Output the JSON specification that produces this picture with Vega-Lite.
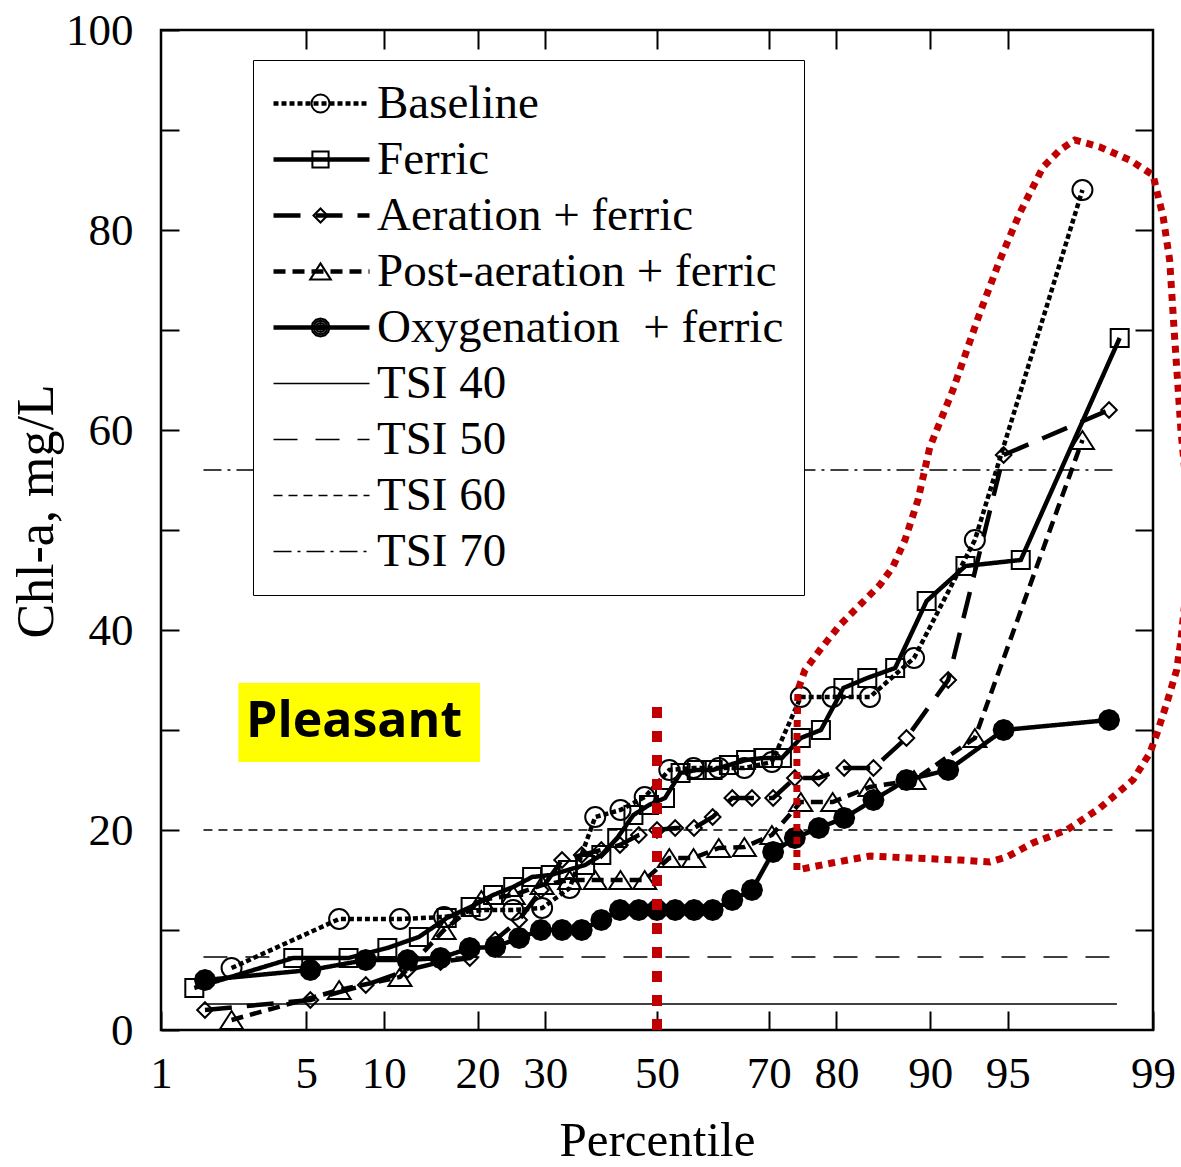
{
  "$schema": "https://vega.github.io/schema/vega-lite/v6.json",
  "width": 992,
  "height": 1000,
  "autosize": {"type": "none"},
  "padding": {"left": 161, "top": 30, "right": 28, "bottom": 137},
  "background": "white",
  "config": {
    "view": {"stroke": "black", "strokeWidth": 2.5},
    "font": "Liberation Serif",
    "axis": {
      "grid": false, "domain": false, "tickColor": "black", "tickWidth": 2,
      "labelFont": "Liberation Serif", "labelFontSize": 45, "labelColor": "black",
      "titleFont": "Liberation Serif", "titleFontSize": 49, "titleFontWeight": "normal", "titleColor": "black",
      "labelFlush": false, "labelOverlap": false, "labelBound": false
    }
  },
  "datasets": {
    "obs": [
      {"series": "TSI 40", "p": 1.67, "chl": 2.6}, {"series": "TSI 40", "p": 98.45, "chl": 2.6},
      {"series": "TSI 50", "p": 1.67, "chl": 7.3}, {"series": "TSI 50", "p": 98.45, "chl": 7.3},
      {"series": "TSI 60", "p": 1.67, "chl": 20}, {"series": "TSI 60", "p": 98.45, "chl": 20},
      {"series": "TSI 70", "p": 1.67, "chl": 56}, {"series": "TSI 70", "p": 98.45, "chl": 56},
      {"series": "Baseline", "p": 2.3, "chl": 6.2}, {"series": "Baseline", "p": 6.8, "chl": 11.1}, {"series": "Baseline", "p": 11.4, "chl": 11.1}, {"series": "Baseline", "p": 15.9, "chl": 11.3}, {"series": "Baseline", "p": 20.5, "chl": 12.0}, {"series": "Baseline", "p": 25.0, "chl": 12.0}, {"series": "Baseline", "p": 29.5, "chl": 12.2}, {"series": "Baseline", "p": 34.1, "chl": 14.2}, {"series": "Baseline", "p": 38.6, "chl": 21.3}, {"series": "Baseline", "p": 43.2, "chl": 22.0}, {"series": "Baseline", "p": 47.7, "chl": 23.3}, {"series": "Baseline", "p": 52.3, "chl": 26.0}, {"series": "Baseline", "p": 56.8, "chl": 26.2}, {"series": "Baseline", "p": 61.4, "chl": 26.2}, {"series": "Baseline", "p": 65.9, "chl": 26.2}, {"series": "Baseline", "p": 70.5, "chl": 26.8}, {"series": "Baseline", "p": 75.0, "chl": 33.3}, {"series": "Baseline", "p": 79.5, "chl": 33.3}, {"series": "Baseline", "p": 84.1, "chl": 33.3}, {"series": "Baseline", "p": 88.6, "chl": 37.2}, {"series": "Baseline", "p": 93.2, "chl": 49.0}, {"series": "Baseline", "p": 97.7, "chl": 84.0},
      {"series": "Ferric", "p": 1.5, "chl": 4.2}, {"series": "Ferric", "p": 4.4, "chl": 7.2}, {"series": "Ferric", "p": 7.4, "chl": 7.2}, {"series": "Ferric", "p": 10.3, "chl": 8.2}, {"series": "Ferric", "p": 13.2, "chl": 9.3}, {"series": "Ferric", "p": 16.2, "chl": 11.2}, {"series": "Ferric", "p": 19.1, "chl": 12.3}, {"series": "Ferric", "p": 22.1, "chl": 13.5}, {"series": "Ferric", "p": 25.0, "chl": 14.3}, {"series": "Ferric", "p": 27.9, "chl": 15.3}, {"series": "Ferric", "p": 30.9, "chl": 15.5}, {"series": "Ferric", "p": 33.8, "chl": 16.0}, {"series": "Ferric", "p": 36.8, "chl": 16.5}, {"series": "Ferric", "p": 39.7, "chl": 17.5}, {"series": "Ferric", "p": 42.6, "chl": 19.2}, {"series": "Ferric", "p": 45.6, "chl": 21.5}, {"series": "Ferric", "p": 48.5, "chl": 22.5}, {"series": "Ferric", "p": 51.5, "chl": 23.2}, {"series": "Ferric", "p": 54.4, "chl": 25.7}, {"series": "Ferric", "p": 57.4, "chl": 26.0}, {"series": "Ferric", "p": 60.3, "chl": 26.0}, {"series": "Ferric", "p": 63.2, "chl": 26.5}, {"series": "Ferric", "p": 66.2, "chl": 27.0}, {"series": "Ferric", "p": 69.1, "chl": 27.2}, {"series": "Ferric", "p": 72.1, "chl": 27.2}, {"series": "Ferric", "p": 75.0, "chl": 29.2}, {"series": "Ferric", "p": 77.9, "chl": 30.0}, {"series": "Ferric", "p": 80.9, "chl": 34.2}, {"series": "Ferric", "p": 83.8, "chl": 35.2}, {"series": "Ferric", "p": 86.8, "chl": 36.2}, {"series": "Ferric", "p": 89.7, "chl": 42.9}, {"series": "Ferric", "p": 92.6, "chl": 46.4}, {"series": "Ferric", "p": 95.6, "chl": 47.0}, {"series": "Ferric", "p": 98.5, "chl": 69.2},
      {"series": "Aeration + ferric", "p": 1.7, "chl": 2.0}, {"series": "Aeration + ferric", "p": 5.2, "chl": 3.0}, {"series": "Aeration + ferric", "p": 8.6, "chl": 4.5}, {"series": "Aeration + ferric", "p": 12.1, "chl": 6.0}, {"series": "Aeration + ferric", "p": 15.5, "chl": 6.8}, {"series": "Aeration + ferric", "p": 19.0, "chl": 7.2}, {"series": "Aeration + ferric", "p": 22.4, "chl": 9.0}, {"series": "Aeration + ferric", "p": 25.9, "chl": 11.0}, {"series": "Aeration + ferric", "p": 29.3, "chl": 14.0}, {"series": "Aeration + ferric", "p": 32.8, "chl": 17.0}, {"series": "Aeration + ferric", "p": 36.2, "chl": 17.5}, {"series": "Aeration + ferric", "p": 39.7, "chl": 18.0}, {"series": "Aeration + ferric", "p": 43.1, "chl": 18.5}, {"series": "Aeration + ferric", "p": 46.6, "chl": 19.5}, {"series": "Aeration + ferric", "p": 50.0, "chl": 20.0}, {"series": "Aeration + ferric", "p": 53.4, "chl": 20.2}, {"series": "Aeration + ferric", "p": 56.9, "chl": 20.2}, {"series": "Aeration + ferric", "p": 60.3, "chl": 21.3}, {"series": "Aeration + ferric", "p": 63.8, "chl": 23.2}, {"series": "Aeration + ferric", "p": 67.2, "chl": 23.2}, {"series": "Aeration + ferric", "p": 70.7, "chl": 23.2}, {"series": "Aeration + ferric", "p": 74.1, "chl": 25.2}, {"series": "Aeration + ferric", "p": 77.6, "chl": 25.2}, {"series": "Aeration + ferric", "p": 81.0, "chl": 26.2}, {"series": "Aeration + ferric", "p": 84.5, "chl": 26.2}, {"series": "Aeration + ferric", "p": 87.9, "chl": 29.2}, {"series": "Aeration + ferric", "p": 91.4, "chl": 35.0}, {"series": "Aeration + ferric", "p": 94.8, "chl": 57.5}, {"series": "Aeration + ferric", "p": 98.3, "chl": 62.0},
      {"series": "Post-aeration + ferric", "p": 2.3, "chl": 1.0}, {"series": "Post-aeration + ferric", "p": 6.8, "chl": 4.0}, {"series": "Post-aeration + ferric", "p": 11.4, "chl": 5.3}, {"series": "Post-aeration + ferric", "p": 15.9, "chl": 10.0}, {"series": "Post-aeration + ferric", "p": 20.5, "chl": 13.0}, {"series": "Post-aeration + ferric", "p": 25.0, "chl": 13.5}, {"series": "Post-aeration + ferric", "p": 29.5, "chl": 14.5}, {"series": "Post-aeration + ferric", "p": 34.1, "chl": 15.0}, {"series": "Post-aeration + ferric", "p": 38.6, "chl": 15.0}, {"series": "Post-aeration + ferric", "p": 43.2, "chl": 15.0}, {"series": "Post-aeration + ferric", "p": 47.7, "chl": 15.0}, {"series": "Post-aeration + ferric", "p": 52.3, "chl": 17.2}, {"series": "Post-aeration + ferric", "p": 56.8, "chl": 17.2}, {"series": "Post-aeration + ferric", "p": 61.4, "chl": 18.2}, {"series": "Post-aeration + ferric", "p": 65.9, "chl": 18.3}, {"series": "Post-aeration + ferric", "p": 70.5, "chl": 19.5}, {"series": "Post-aeration + ferric", "p": 75.0, "chl": 22.8}, {"series": "Post-aeration + ferric", "p": 79.5, "chl": 22.8}, {"series": "Post-aeration + ferric", "p": 84.1, "chl": 24.3}, {"series": "Post-aeration + ferric", "p": 88.6, "chl": 25.0}, {"series": "Post-aeration + ferric", "p": 93.2, "chl": 29.2}, {"series": "Post-aeration + ferric", "p": 97.7, "chl": 59.0},
      {"series": "Oxygenation  + ferric", "p": 1.7, "chl": 5.0}, {"series": "Oxygenation  + ferric", "p": 5.2, "chl": 6.0}, {"series": "Oxygenation  + ferric", "p": 8.6, "chl": 7.0}, {"series": "Oxygenation  + ferric", "p": 12.1, "chl": 7.0}, {"series": "Oxygenation  + ferric", "p": 15.5, "chl": 7.2}, {"series": "Oxygenation  + ferric", "p": 19.0, "chl": 8.2}, {"series": "Oxygenation  + ferric", "p": 22.4, "chl": 8.3}, {"series": "Oxygenation  + ferric", "p": 25.9, "chl": 9.2}, {"series": "Oxygenation  + ferric", "p": 29.3, "chl": 10.0}, {"series": "Oxygenation  + ferric", "p": 32.8, "chl": 10.0}, {"series": "Oxygenation  + ferric", "p": 36.2, "chl": 10.0}, {"series": "Oxygenation  + ferric", "p": 39.7, "chl": 11.0}, {"series": "Oxygenation  + ferric", "p": 43.1, "chl": 12.0}, {"series": "Oxygenation  + ferric", "p": 46.6, "chl": 12.0}, {"series": "Oxygenation  + ferric", "p": 50.0, "chl": 12.0}, {"series": "Oxygenation  + ferric", "p": 53.4, "chl": 12.0}, {"series": "Oxygenation  + ferric", "p": 56.9, "chl": 12.0}, {"series": "Oxygenation  + ferric", "p": 60.3, "chl": 12.0}, {"series": "Oxygenation  + ferric", "p": 63.8, "chl": 13.0}, {"series": "Oxygenation  + ferric", "p": 67.2, "chl": 14.0}, {"series": "Oxygenation  + ferric", "p": 70.7, "chl": 17.8}, {"series": "Oxygenation  + ferric", "p": 74.1, "chl": 19.2}, {"series": "Oxygenation  + ferric", "p": 77.6, "chl": 20.2}, {"series": "Oxygenation  + ferric", "p": 81.0, "chl": 21.2}, {"series": "Oxygenation  + ferric", "p": 84.5, "chl": 23.0}, {"series": "Oxygenation  + ferric", "p": 87.9, "chl": 25.0}, {"series": "Oxygenation  + ferric", "p": 91.4, "chl": 26.0}, {"series": "Oxygenation  + ferric", "p": 94.8, "chl": 30.0}, {"series": "Oxygenation  + ferric", "p": 98.3, "chl": 31.0}
    ],
    "curve": [
      {"i": 1, "p": 74.41, "chl": 16}, {"i": 2, "p": 74.41, "chl": 23}, {"i": 3, "p": 74.41, "chl": 29}, {"i": 4, "p": 74.57, "chl": 34}, {"i": 5, "p": 75.62, "chl": 36}, {"i": 6, "p": 77.76, "chl": 38}, {"i": 7, "p": 80.46, "chl": 40.5}, {"i": 8, "p": 83.17, "chl": 42.7}, {"i": 9, "p": 85.2, "chl": 44.5}, {"i": 10, "p": 86.56, "chl": 46.3}, {"i": 11, "p": 87.76, "chl": 49}, {"i": 12, "p": 88.95, "chl": 53}, {"i": 13, "p": 89.97, "chl": 58.3}, {"i": 14, "p": 91.74, "chl": 64}, {"i": 15, "p": 93.5, "chl": 71.7}, {"i": 16, "p": 94.61, "chl": 77}, {"i": 17, "p": 95.56, "chl": 81.7}, {"i": 18, "p": 96.49, "chl": 86.3}, {"i": 19, "p": 97.06, "chl": 88}, {"i": 20, "p": 97.5, "chl": 89}, {"i": 21, "p": 98.11, "chl": 88.3}, {"i": 22, "p": 98.67, "chl": 87}, {"i": 23, "p": 99.0, "chl": 85.5}, {"i": 24, "p": 99.12, "chl": 81.3}, {"i": 25, "p": 99.19, "chl": 77}, {"i": 26, "p": 99.24, "chl": 69.3}, {"i": 27, "p": 99.3, "chl": 60}, {"i": 28, "p": 99.39, "chl": 49}, {"i": 29, "p": 99.3, "chl": 39}, {"i": 30, "p": 99.26, "chl": 36}, {"i": 31, "p": 99.16, "chl": 32.7}, {"i": 32, "p": 99.05, "chl": 29.7}, {"i": 33, "p": 98.96, "chl": 27.7}, {"i": 34, "p": 98.72, "chl": 25}, {"i": 35, "p": 98.11, "chl": 22.2}, {"i": 36, "p": 97.27, "chl": 20}, {"i": 37, "p": 96.1, "chl": 18.7}, {"i": 38, "p": 94.96, "chl": 17.3}, {"i": 39, "p": 94.07, "chl": 16.8}, {"i": 40, "p": 92.23, "chl": 17}, {"i": 41, "p": 88.22, "chl": 17.2}, {"i": 42, "p": 84.11, "chl": 17.4}, {"i": 43, "p": 79.39, "chl": 16.7}, {"i": 44, "p": 74.41, "chl": 16}
    ],
    "mid": [{"p": 50, "lo": 0, "hi": 32.5}],
    "note": [{"label": "Pleasant", "p1": 2.48, "p2": 20.33, "lo": 26.8, "hi": 34.7, "pt": 7.77, "yt": 30.8}]
  },
  "layer": [
    {
      "data": {"name": "note"},
      "transform": [
        {"calculate": "quantileNormal(datum.p1/100)", "as": "z1"},
        {"calculate": "quantileNormal(datum.p2/100)", "as": "z2"}
      ],
      "mark": {"type": "rect", "color": "#ffff00"},
      "encoding": {
        "x": {"field": "z1", "type": "quantitative", "scale": {"domain": [-2.3263, 2.3263], "nice": false, "zero": false},
          "axis": {"orient": "bottom", "values": [-2.3263, -1.6449, -1.2816, -0.8416, -0.5244, 0, 0.5244, 0.8416, 1.2816, 1.6449, 2.3263],
            "labelExpr": "round(cumulativeNormal(datum.value)*100)", "tickSize": -19, "labelPadding": 40, "title": "Percentile", "titlePadding": 20}},
        "x2": {"field": "z2"},
        "y": {"field": "lo", "type": "quantitative", "scale": {"domain": [0, 100], "nice": false, "zero": false},
          "axis": {"orient": "left", "values": [0, 10, 20, 30, 40, 50, 60, 70, 80, 90, 100],
            "labelExpr": "datum.value % 20 === 0 ? datum.label : ''", "tickSize": -18, "labelPadding": 46, "title": "Chl-a, mg/L", "titlePadding": 2, "titleFontSize": 52, "titleY": 481}},
        "y2": {"field": "hi"}
      }
    },
    {
      "data": {"name": "note"},
      "transform": [{"calculate": "quantileNormal(datum.pt/100)", "as": "zt"}],
      "mark": {"type": "text", "font": "Open Sans", "fontWeight": "bold", "fontSize": 50, "color": "black", "align": "center", "baseline": "middle"},
      "encoding": {
        "x": {"field": "zt", "type": "quantitative", "axis": null},
        "y": {"field": "yt", "type": "quantitative", "axis": null},
        "text": {"field": "label"}
      }
    },
    {
      "data": {"name": "obs"},
      "transform": [{"calculate": "quantileNormal(datum.p/100)", "as": "z"}],
      "mark": {"type": "line", "color": "black", "strokeCap": "butt"},
      "encoding": {
        "x": {"field": "z", "type": "quantitative",
          "axis": {"orient": "top", "values": [-1.6449, -1.2816, -0.8416, -0.5244, 0, 0.5244, 0.8416, 1.2816, 1.6449], "labels": false, "tickSize": -19, "title": null}},
        "y": {"field": "chl", "type": "quantitative",
          "axis": {"orient": "right", "values": [10, 20, 30, 40, 50, 60, 70, 80, 90], "labels": false, "tickSize": -18, "title": null}},
        "order": {"field": "p"},
        "strokeWidth": {"condition": {"test": "indexof(datum.series, 'TSI') === 0", "value": 1.5}, "value": 4.5},
        "strokeDash": {"field": "series", "type": "nominal",
          "scale": {"domain": ["Baseline", "Ferric", "Aeration + ferric", "Post-aeration + ferric", "Oxygenation  + ferric", "TSI 40", "TSI 50", "TSI 60", "TSI 70"],
            "range": [[5, 3], [1, 0], [27, 15], [12, 7], [1, 0], [1, 0], [24, 18], [9, 6], [18, 6, 3, 6]]},
          "legend": {"title": null, "orient": "none", "legendX": 92, "legendY": 30, "direction": "vertical",
            "symbolType": "M-2.4,0H2.4", "symbolSize": 1600, "symbolOffset": 25, "symbolStrokeColor": "black", "symbolStrokeWidth": 1.5,
            "labelFont": "Liberation Serif", "labelFontSize": 47, "labelColor": "black", "labelLimit": 800, "labelOffset": 32,
            "labelExpr": "replace(datum.label, '  ', '\u00a0 ')",
            "rowPadding": 8, "padding": 20, "strokeColor": "black", "fillColor": "white", "zindex": 1,
            "encode": {"symbols": {"update": {"shape": {"signal": "indexof(datum.value, 'TSI') === 0 ? 'M-2.4,0H2.4' : 'M-2.4,-0.07H2.4M-2.4,0H2.4M-2.4,0.07H2.4'"}}}}}
        }
      }
    },
    {
      "data": {"name": "obs"},
      "transform": [
        {"filter": "indexof(datum.series, 'TSI') < 0"},
        {"calculate": "quantileNormal(datum.p/100)", "as": "z"}
      ],
      "mark": {"type": "point", "filled": false, "size": 400, "strokeWidth": 2, "color": "black", "opacity": 1},
      "encoding": {
        "x": {"field": "z", "type": "quantitative", "axis": null},
        "y": {"field": "chl", "type": "quantitative", "axis": null},
        "fill": {"condition": {"test": "datum.series === 'Oxygenation  + ferric'", "value": "black"}, "value": "transparent"},
        "shape": {"field": "series", "type": "nominal",
          "scale": {"domain": ["Baseline", "Ferric", "Aeration + ferric", "Post-aeration + ferric", "Oxygenation  + ferric"],
            "range": ["circle", "M-0.9,-0.9L0.9,-0.9L0.9,0.9L-0.9,0.9Z", "M0,-0.78L0.78,0L0,0.78L-0.78,0Z", "M0,-0.9L1.15,0.9L-1.15,0.9Z",
              "M1,0L0.866,0.5L0.5,0.866L0,1L-0.5,0.866L-0.866,0.5L-1,0L-0.866,-0.5L-0.5,-0.866L0,-1L0.5,-0.866L0.866,-0.5ZM0.75,0L0.65,0.375L0.375,0.65L0,0.75L-0.375,0.65L-0.65,0.375L-0.75,0L-0.65,-0.375L-0.375,-0.65L0,-0.75L0.375,-0.65L0.65,-0.375ZM0.5,0L0.433,0.25L0.25,0.433L0,0.5L-0.25,0.433L-0.433,0.25L-0.5,0L-0.433,-0.25L-0.25,-0.433L0,-0.5L0.25,-0.433L0.433,-0.25ZM0.25,0L0.2165,0.125L0.125,0.2165L0,0.25L-0.125,0.2165L-0.2165,0.125L-0.25,0L-0.2165,-0.125L-0.125,-0.2165L0,-0.25L0.125,-0.2165L0.2165,-0.125ZM-0.08,0L0.08,0"]},
          "legend": {"title": null, "orient": "none", "legendX": 116, "legendY": 30, "direction": "vertical",
            "symbolSize": 324, "symbolStrokeColor": "black", "symbolStrokeWidth": 2,
            "labelFont": "Liberation Serif", "labelFontSize": 47, "labelColor": "transparent", "labelOffset": 10, "labelExpr": "''",
            "rowPadding": 8, "padding": 20, "zindex": 2,
            "encode": {"symbols": {"update": {"fill": {"signal": "datum.value === 'Oxygenation  + ferric' ? 'black' : 'transparent'"}, "opacity": {"value": 1}}}}}
        }
      }
    },
    {
      "data": {"name": "curve"},
      "transform": [{"calculate": "quantileNormal(datum.p/100)", "as": "z"}],
      "mark": {"type": "line", "color": "#c00000", "strokeWidth": 7, "strokeDash": [7, 6], "strokeCap": "butt", "clip": false},
      "encoding": {
        "x": {"field": "z", "type": "quantitative", "axis": null},
        "y": {"field": "chl", "type": "quantitative", "axis": null},
        "order": {"field": "i"}
      }
    },
    {
      "data": {"name": "mid"},
      "transform": [{"calculate": "quantileNormal(datum.p/100)", "as": "z"}],
      "mark": {"type": "rule", "color": "#c00000", "strokeWidth": 10, "strokeDash": [11, 13], "strokeCap": "butt"},
      "encoding": {
        "x": {"field": "z", "type": "quantitative", "axis": null},
        "y": {"field": "lo", "type": "quantitative", "axis": null},
        "y2": {"field": "hi"}
      }
    }
  ],
  "resolve": {"axis": {"x": "independent", "y": "independent"}}
}
